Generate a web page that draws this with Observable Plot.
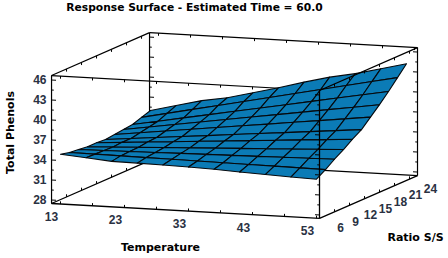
<!DOCTYPE html>
<html>
<head>
<meta charset="utf-8">
<script src="https://cdn.jsdelivr.net/npm/d3@7"></script>
<script src="https://cdn.jsdelivr.net/npm/@observablehq/plot@0.6"></script>
<style>html,body{margin:0;padding:0;background:#fff}svg{display:block}</style>
</head>
<body>
<div id="chart"></div>
<script>
const chartTitle = "Response Surface - Estimated Time = 60.0";
const xTitle = "Temperature", yTitle = "Ratio S/S", zTitle = "Total Phenols";
const temperatureLabels = [13, 23, 33, 43, 53];
const ratioLabels = [6, 9, 12, 15, 18, 21, 24];
const phenolLabels = [28, 31, 34, 37, 40, 43, 46];
const temperatureGrid = [13, 17, 21, 25, 29, 33, 37, 41, 45, 49, 53];
const ratioGrid = [6, 7.8, 9.6, 11.4, 13.2, 15, 16.8, 18.6, 20.4, 22.2, 24];
const phenols = [
  [34.94,34.62,34.30,34.25,34.19,34.09,33.98,33.77,33.61,33.45,33.34],
  [34.62,34.58,34.53,34.49,34.45,34.41,34.36,34.32,34.28,34.23,34.19],
  [34.46,34.53,34.60,34.67,34.74,34.81,34.87,34.94,35.01,35.08,35.15],
  [34.30,34.47,34.64,34.81,34.98,35.16,35.33,35.50,35.67,35.84,36.01],
  [34.30,34.57,34.83,35.10,35.37,35.64,35.90,36.17,36.44,36.70,36.97],
  [34.19,34.55,34.92,35.28,35.64,36.01,36.37,36.73,37.09,37.46,37.82],
  [34.35,34.83,35.30,35.78,36.25,36.73,37.20,37.68,38.15,38.63,39.10],
  [34.51,35.10,35.68,36.27,36.86,37.45,38.03,38.62,39.21,39.79,40.38],
  [34.67,35.38,36.09,36.80,37.51,38.22,38.93,39.64,40.35,41.06,41.77],
  [35.15,35.96,36.77,37.58,38.39,39.21,40.02,40.83,41.64,42.45,43.26],
  [35.58,36.54,37.50,38.14,39.10,40.06,41.13,42.09,42.83,43.79,44.75]
];
// box bounds in data units
const T0 = 11.6, T1 = 53.47, R0 = 6, R1 = 25.6, Z0 = 27.475, Z1 = 46.67;
const zMinor = [28,29.5,31,32.5,34,35.5,37,38.5,40,41.5,43,44.5,46];
const tMinor = [13,18,23,28,33,38,43,48,53];
const rMinor = [6,9,12,15,18,21,24];

// oblique projection into the plane of the x and y scales
const kRx = 5 / 6.4, kTz = 0.3575 / 6.667, kRz = 2.19 / 6.667;
const px = (T, R) => T + (R - 6) * kRx;
const py = (T, R, Z) => Z - (T - 13) * kTz + (R - 6) * kRz;
const seg = (a, b) => ({x1: px(a[0], a[1]), y1: py(a[0], a[1], a[2]), x2: px(b[0], b[1]), y2: py(b[0], b[1], b[2])});

const backEdges = [
  seg([T0,R0,Z1],[T0,R1,Z1]), seg([T0,R1,Z1],[T1,R1,Z1]), seg([T0,R1,Z1],[T0,R1,Z0]),
  seg([T0,R0,Z0],[T0,R1,Z0]), seg([T0,R1,Z0],[T1,R1,Z0]), seg([T0,R0,Z1],[T1,R0,Z1]),
  seg([T0,R0,Z0],[T0,R0,Z1]), seg([T1,R1,Z0],[T1,R1,Z1])
];
const frontEdges = [
  seg([T1,R0,Z1],[T1,R1,Z1]), seg([T1,R0,Z1],[T1,R0,Z0]),
  seg([T0,R0,Z0],[T1,R0,Z0]), seg([T1,R0,Z0],[T1,R1,Z0])
];
const backTicks = [];
const frontTicks = [];
zMinor.forEach((z, i) => {
  const d = i % 2 ? 0.35 : 0.7;
  backTicks.push(seg([T0,R0,z],[T0+d,R0,z]), seg([T0,R1,z],[T0+d,R1,z]), seg([T1,R1,z],[T1-d,R1,z]));
  frontTicks.push(seg([T1,R0,z],[T1-d,R0,z]));
});
tMinor.forEach(t => {
  backTicks.push(seg([t,R0,Z1],[t,R0,Z1-0.4]), seg([t,R1,Z1],[t,R1,Z1-0.4]));
  frontTicks.push(seg([t,R0,Z0],[t,R0,Z0+0.4]));
});
rMinor.forEach(r => {
  backTicks.push(seg([T0,r,Z1],[T0,r,Z1-0.4]), seg([T0,r,Z0],[T0,r,Z0+0.4]));
  frontTicks.push(seg([T1,r,Z1],[T1,r,Z1-0.4]), seg([T1,r,Z0],[T1,r,Z0+0.4]));
});

// surface cells, back to front
const cells = [];
for (let j = ratioGrid.length - 2; j >= 0; j--) {
  for (let i = 0; i < temperatureGrid.length - 1; i++) {
    const id = j * 100 + i;
    [[i,j],[i+1,j],[i+1,j+1],[i,j+1],[i,j]].forEach(([a, b]) => {
      const T = temperatureGrid[a], R = ratioGrid[b], Z = phenols[b][a];
      cells.push({id, x: px(T, R), y: py(T, R, Z)});
    });
  }
}

const link = (data, w) => Plot.link(data, {x1: "x1", y1: "y1", x2: "x2", y2: "y2", stroke: "#000", strokeWidth: w});
const font = "'Liberation Sans', Arial, sans-serif";
const bold = "'DejaVu Sans', Verdana, sans-serif";
const labelFill = "#2a3142";

const chart = Plot.plot({
  width: 448, height: 258,
  marginTop: 0, marginRight: 0, marginBottom: 0, marginLeft: 0,
  style: {background: "#fff"},
  x: {domain: [13, 53], range: [60, 316], axis: null},
  y: {domain: [28, 46], range: [200, 80], axis: null},
  marks: [
    link(backEdges, 1.2),
    link(backTicks, 1),
    Plot.line(cells, {x: "x", y: "y", z: "id", fill: "#0b7bb6", stroke: "#05090d", strokeWidth: 1.1, curve: "linear"}),
    link(frontEdges, 1.3),
    link(frontTicks, 1),
    Plot.text(phenolLabels, {x: px(T0, R0), y: z => py(T0, R0, z), text: d => `${d}`, textAnchor: "end", dx: -5, fontFamily: font, fontSize: 12, fontWeight: 700, fill: labelFill}),
    Plot.text(temperatureLabels, {x: t => px(t, R0), y: t => py(t, R0, Z0), text: d => `${d}`, dx: -9, dy: 13, fontFamily: font, fontSize: 12, fontWeight: 700, fill: labelFill}),
    Plot.text(ratioLabels, {x: r => px(T1, r), y: r => py(T1, r, Z0), text: d => `${d}`, dx: 21, dy: 10, fontFamily: font, fontSize: 12, fontWeight: 700, fill: labelFill}),
    Plot.text([chartTitle], {frameAnchor: "top-left", dx: 194, dy: 7, textAnchor: "middle", lineAnchor: "middle", fontFamily: bold, fontWeight: 700, fontSize: 10.7, fill: "#000"}),
    Plot.text([xTitle], {frameAnchor: "top-left", dx: 160, dy: 247, textAnchor: "middle", lineAnchor: "middle", fontFamily: bold, fontWeight: 700, fontSize: 11, fill: "#000"}),
    Plot.text([yTitle], {frameAnchor: "top-left", dx: 415, dy: 237, textAnchor: "middle", lineAnchor: "middle", fontFamily: bold, fontWeight: 700, fontSize: 11, fill: "#000"}),
    Plot.text([zTitle], {frameAnchor: "top-left", dx: 10, dy: 132, rotate: -90, textAnchor: "middle", lineAnchor: "middle", fontFamily: bold, fontWeight: 700, fontSize: 11, fill: "#000"})
  ]
});
document.getElementById("chart").append(chart);
</script>
</body>
</html>
